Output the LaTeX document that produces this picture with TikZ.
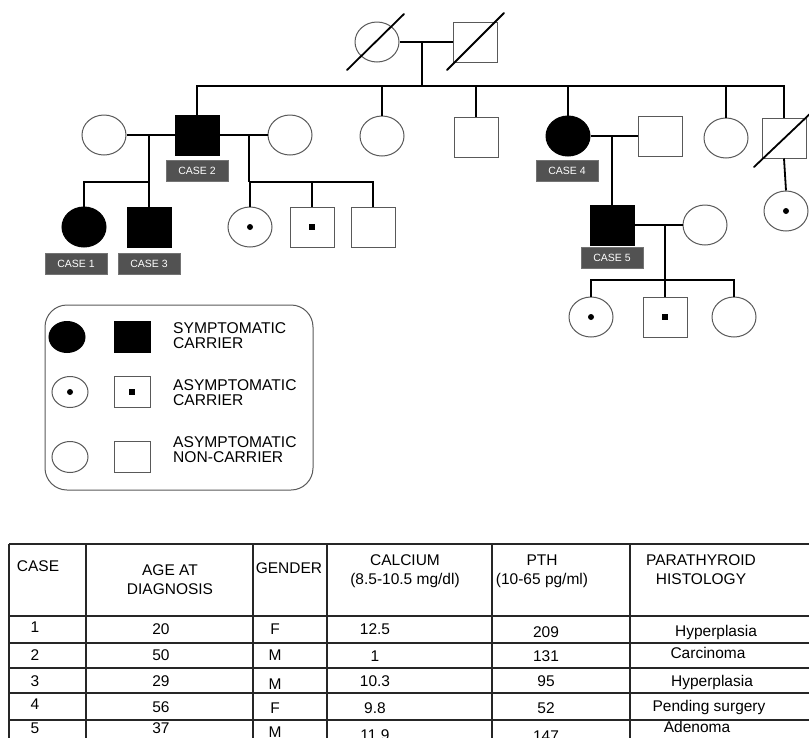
\documentclass[tikz,border=0pt]{standalone}
\usepackage{fontspec}
\setmainfont{Liberation Sans}
\usetikzlibrary{shapes.geometric}

\tikzset{
  line/.style={line width=1.8pt, black},
  slash/.style={line width=1.8pt, black, line cap=round},
  fem/.style={ellipse, draw=black!65, line width=1pt, fill=white, inner sep=0pt,
    minimum width=44pt, minimum height=40pt},
  mal/.style={rectangle, draw=black!65, line width=1pt, fill=white, inner sep=0pt,
    minimum width=44pt, minimum height=40pt},
  aff/.style={fill=black, draw=black},
  cfem/.style={path picture={\fill[black] (path picture bounding box.center) circle (3pt);}},
  cmal/.style={path picture={\fill[black] ([shift={(-2.6pt,-2.6pt)}]path picture bounding box.center) rectangle ++(5.2pt,5.2pt);}},
  small/.style={minimum width=36pt, minimum height=31pt},
  casebox/.style={fill=black!68, draw=black!55, text=white, inner sep=0pt,
    minimum width=62pt, minimum height=21pt, font=\fontsize{10.5}{12}\selectfont},
  grid/.style={line width=1.6pt, black!85},
  cell/.style={anchor=base, inner sep=0pt, font=\fontsize{15.5}{18.5}\selectfont},
}

\begin{document}
\begin{tikzpicture}[x=1pt,y=-1pt]
      \useasboundingbox (0,0) rectangle (809,737) ;
      \clip (0,0) rectangle (809,737) ;
      % generation I
      \node[fem] (I1) at (377,42) {} ;
      \node[mal] (I2) at (475,42) {} ;
      \draw[slash] ([shift={(-30,28)}]I1.center) -- ([shift={(27,-28)}]I1.center) ;
      \draw[slash] ([shift={(-28,28)}]I2.center) -- ([shift={(29,-29)}]I2.center) ;
      % generation II
      \node[fem] (II1) at (104,135) {} ;
      \node[mal,aff] (II2) at (197,135) {} ;
      \node[fem] (II3) at (290,135) {} ;
      \node[fem] (II4) at (382,136) {} ;
      \node[mal] (II5) at (476,137) {} ;
      \node[fem,aff] (II6) at (568,136) {} ;
      \node[mal] (II7) at (660,136) {} ;
      \node[fem] (II8) at (726,138) {} ;
      \node[mal] (II9) at (784,138) {} ;
      \draw[slash] ([shift={(-30,29)}]II9.center) -- ([shift={(30,-28)}]II9.center) ;
      % generation III
      \node[fem,aff] (III1) at (84,227) {} ;
      \node[mal,aff] (III2) at (149,227) {} ;
      \node[fem,cfem] (III3) at (250,227) {} ;
      \node[mal,cmal] (III4) at (312,227) {} ;
      \node[mal] (III5) at (373,227) {} ;
      \node[mal,aff] (III6) at (612,225) {} ;
      \node[fem] (III7) at (705,225) {} ;
      \node[fem,cfem] (III8) at (786,211) {} ;
      % generation IV
      \node[fem,cfem] (IV1) at (591,317) {} ;
      \node[mal,cmal] (IV2) at (665,317) {} ;
      \node[fem] (IV3) at (734,317) {} ;
      % case labels
      \node[casebox] (lab1) at (76,264) {CASE 1} ;
      \node[casebox] (lab2) at (197,171) {CASE 2} ;
      \node[casebox] (lab3) at (149,264) {CASE 3} ;
      \node[casebox] (lab4) at (567,171) {CASE 4} ;
      \node[casebox] (lab5) at (612,258) {CASE 5} ;
      % couples and sibships
      \coordinate (m0) at (422,42) ;
      \coordinate (s0) at (422,86) ;
      \coordinate (m1) at (149,135) ;
      \coordinate (s1) at (149,182) ;
      \coordinate (m2) at (249,135) ;
      \coordinate (s2) at (249,182) ;
      \coordinate (m3) at (612,136) ;
      \coordinate (m4) at (665,225) ;
      \coordinate (s4) at (665,280) ;
      \draw[line] (I1.east) -- (I2.west) ;
      \draw[line] (m0) -- (s0) ;
      \draw[line] (II2.north) |- (s0) ;
      \draw[line] (II4.north) |- (s0) ;
      \draw[line] (II5.north) |- (s0) ;
      \draw[line] (II6.north) |- (s0) ;
      \draw[line] (II8.north) |- (s0) ;
      \draw[line] (II9.north) |- (s0) ;
      \draw[line] (II1.east) -- (II2.west) ;
      \draw[line] (m1) -- (s1) ;
      \draw[line] (III1.north) |- (s1) ;
      \draw[line] (III2.north) |- (s1) ;
      \draw[line] (II2.east) -- (II3.west) ;
      \draw[line] (m2) -- (s2) ;
      \draw[line] (III3.north) |- (s2) ;
      \draw[line] (III4.north) |- (s2) ;
      \draw[line] (III5.north) |- (s2) ;
      \draw[line] (II6.east) -- (II7.west) ;
      \draw[line] (m3) -- (III6.north) ;
      \draw[line] (II9.south) -- (III8.north) ;
      \draw[line] (III6.east) -- (III7.west) ;
      \draw[line] (m4) -- (s4) ;
      \draw[line] (IV1.north) |- (s4) ;
      \draw[line] (IV2.north) |- (s4) ;
      \draw[line] (IV3.north) |- (s4) ;
      % legend
      \node[draw=black!65, line width=1pt, rounded corners=22pt, minimum width=268pt,
        minimum height=185pt] (legend) at (179,397.5) {} ;
      \node[fem,small,aff] (L1) at (67,337) {} ;
      \node[mal,small,aff] (L2) at (132,337) {} ;
      \node[fem,small,cfem] (L3) at (70,392) {} ;
      \node[mal,small,cmal] (L4) at (132,392) {} ;
      \node[fem,small] (L5) at (70,457) {} ;
      \node[mal,small] (L6) at (132,457) {} ;
      \node[anchor=west, align=left, inner sep=0pt, font=\fontsize{15.6}{15.5}\selectfont]
        (T1) at (173,335.5) {SYMPTOMATIC\\CARRIER} ;
      \node[anchor=west, align=left, inner sep=0pt, font=\fontsize{15.6}{15.5}\selectfont]
        (T2) at (173,392.5) {ASYMPTOMATIC\\CARRIER} ;
      \node[anchor=west, align=left, inner sep=0pt, font=\fontsize{15.6}{15.5}\selectfont]
        (T3) at (173,449.5) {ASYMPTOMATIC\\NON-CARRIER} ;
      % table
      \draw[grid] (9,544) -- (809,544) ;
      \draw[grid] (9,616) -- (809,616) ;
      \draw[grid] (9,643) -- (809,643) ;
      \draw[grid] (9,668) -- (809,668) ;
      \draw[grid] (9,693) -- (809,693) ;
      \draw[grid] (9,720) -- (809,720) ;
      \draw[grid] (9,544) -- (9,740) ;
      \draw[grid] (86,544) -- (86,740) ;
      \draw[grid] (253,544) -- (253,740) ;
      \draw[grid] (327,544) -- (327,740) ;
      \draw[grid] (492,544) -- (492,740) ;
      \draw[grid] (630,544) -- (630,740) ;
      \node[cell] (h1) at (38,571) {CASE} ;
      \node[cell, align=center] (h2) at (170,594) {AGE AT\\DIAGNOSIS} ;
      \node[cell] (h3) at (289,573) {GENDER} ;
      \node[cell, align=center] (h4) at (405,584) {CALCIUM\\(8.5-10.5 mg/dl)} ;
      \node[cell, align=center] (h5) at (542,584) {PTH\\(10-65 pg/ml)} ;
      \node[cell, align=center] (h6) at (701,584) {PARATHYROID\\HISTOLOGY} ;
      % rows
      \node[cell] (a1) at (35,632) {1} ;
      \node[cell] (b1) at (161,634) {20} ;
      \node[cell] (c1) at (275,634) {F} ;
      \node[cell] (d1) at (375,634) {12.5} ;
      \node[cell] (e1) at (546,637) {209} ;
      \node[cell] (f1) at (716,636) {Hyperplasia} ;
      \node[cell] (a2) at (35,660) {2} ;
      \node[cell] (b2) at (161,660) {50} ;
      \node[cell] (c2) at (275,660) {M} ;
      \node[cell] (d2) at (375,661) {1} ;
      \node[cell] (e2) at (546,661) {131} ;
      \node[cell] (f2) at (708,658) {Carcinoma} ;
      \node[cell] (a3) at (35,686) {3} ;
      \node[cell] (b3) at (161,686) {29} ;
      \node[cell] (c3) at (275,689) {M} ;
      \node[cell] (d3) at (375,686) {10.3} ;
      \node[cell] (e3) at (546,686) {95} ;
      \node[cell] (f3) at (712,686) {Hyperplasia} ;
      \node[cell] (a4) at (35,709) {4} ;
      \node[cell] (b4) at (161,712) {56} ;
      \node[cell] (c4) at (275,713) {F} ;
      \node[cell] (d4) at (375,713) {9.8} ;
      \node[cell] (e4) at (546,713) {52} ;
      \node[cell] (f4) at (709,711) {Pending surgery} ;
      \node[cell] (a5) at (35,733) {5} ;
      \node[cell] (b5) at (161,733) {37} ;
      \node[cell] (c5) at (275,737) {M} ;
      \node[cell] (d5) at (375,740) {11.9} ;
      \node[cell] (e5) at (546,741) {147} ;
      \node[cell] (f5) at (697,732) {Adenoma} ;
    \end{tikzpicture}
\end{document}
